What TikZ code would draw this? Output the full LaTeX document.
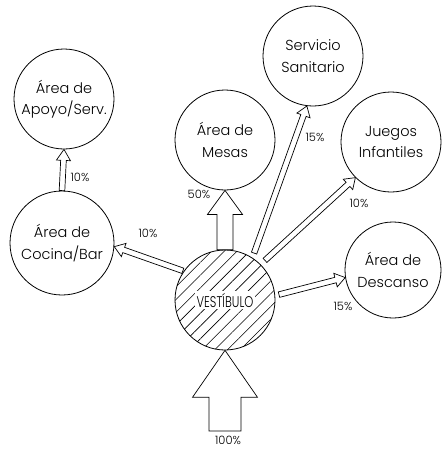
\documentclass[tikz,border=0pt]{standalone}
\usepackage{fontspec}
\setmainfont{Poppins Light}
\usetikzlibrary{calc,patterns.meta}
% open outlined arrow from #1 to #2: shaft half width #3, head half width #4, head length #5, gap at start #6
\newcommand\oarrow[6]{%
  \draw[arrowline] let \p1=(#1), \p2=(#2), \n1={atan2(\y2-\y1,\x2-\x1)} in
    ($(\p1)+(\n1:#6)+(\n1+90:#3)$) --
    ($(\p2)+(\n1+180:#5)+(\n1+90:#3)$) --
    ($(\p2)+(\n1+180:#5)+(\n1+90:#4)$) --
    (\p2) --
    ($(\p2)+(\n1+180:#5)+(\n1-90:#4)$) --
    ($(\p2)+(\n1+180:#5)+(\n1-90:#3)$) --
    ($(\p1)+(\n1:#6)+(\n1-90:#3)$) -- cycle;}
\begin{document}
\begin{tikzpicture}[x=1pt,y=-1pt,
  area/.style={circle, draw, line width=0.8pt, inner sep=0pt, align=center,
    font=\fontsize{14.5}{21.5}\selectfont},
  pct/.style={inner sep=0pt, font=\fontsize{11.5}{13}\selectfont},
  arrowline/.style={draw, line width=0.7pt, fill=white, line join=miter}]
\path[fill=white] (0,0) rectangle (442,450);
\useasboundingbox (0,0) rectangle (442,450);

% areas
\node[area, minimum size=100pt] (apoyo) at (64,99) {Área de\\Apoyo/Serv.};
\node[area, minimum size=104pt] (cocina) at (62,243) {Área de\\Cocina/Bar};
\node[area, minimum size=100pt] (mesas) at (225,140) {Área de\\Mesas};
\node[area, minimum size=100pt] (serv) at (313,56) {Servicio\\Sanitario};
\node[area, minimum size=100pt] (juegos) at (391,142) {Juegos\\Infantiles};
\node[area, minimum size=96pt] (desc) at (393,270) {Área de\\Descanso};

% vestibule
\node[circle, draw, line width=0.8pt, minimum size=100pt, inner sep=0pt,
  pattern={Lines[angle=45, distance=9pt, line width=0.6pt]}] (vest) at (225,300) {};
\node[fill=white, inner sep=2pt, font=\fontsize{15.5}{18}\selectfont] (vestlbl) at (vest.center)
  {\scalebox{0.74}[1]{VESTÍBULO}};

\coordinate (entry) at (225,431);

% arrows
\oarrow{entry}{vest.-90}{16pt}{32.5pt}{47pt}{0pt}
\oarrow{vest.90}{mesas.-90}{8pt}{17.5pt}{24pt}{0pt}
\oarrow{cocina.90}{apoyo.-90}{2.8pt}{7pt}{11pt}{0pt}
\oarrow{vest.145}{cocina.-4}{2.8pt}{7pt}{10pt}{1pt}
\oarrow{vest.57.5}{serv.263.7}{2.8pt}{7pt}{10pt}{5pt}
\oarrow{vest.45}{juegos.225}{2.8pt}{7pt}{10pt}{6pt}
\oarrow{vest.5}{desc.189}{2.8pt}{7pt}{10pt}{4pt}

% percentages
\node[pct] (p1) at (80,177) {10\%};
\node[pct] (p2) at (148,233) {10\%};
\node[pct] (p3) at (199,194) {50\%};
\node[pct] (p4) at (315,137) {15\%};
\node[pct] (p5) at (359,203) {10\%};
\node[pct] (p6) at (343,306) {15\%};
\node[pct] (p7) at (228,440) {100\%};
\end{tikzpicture}
\end{document}
